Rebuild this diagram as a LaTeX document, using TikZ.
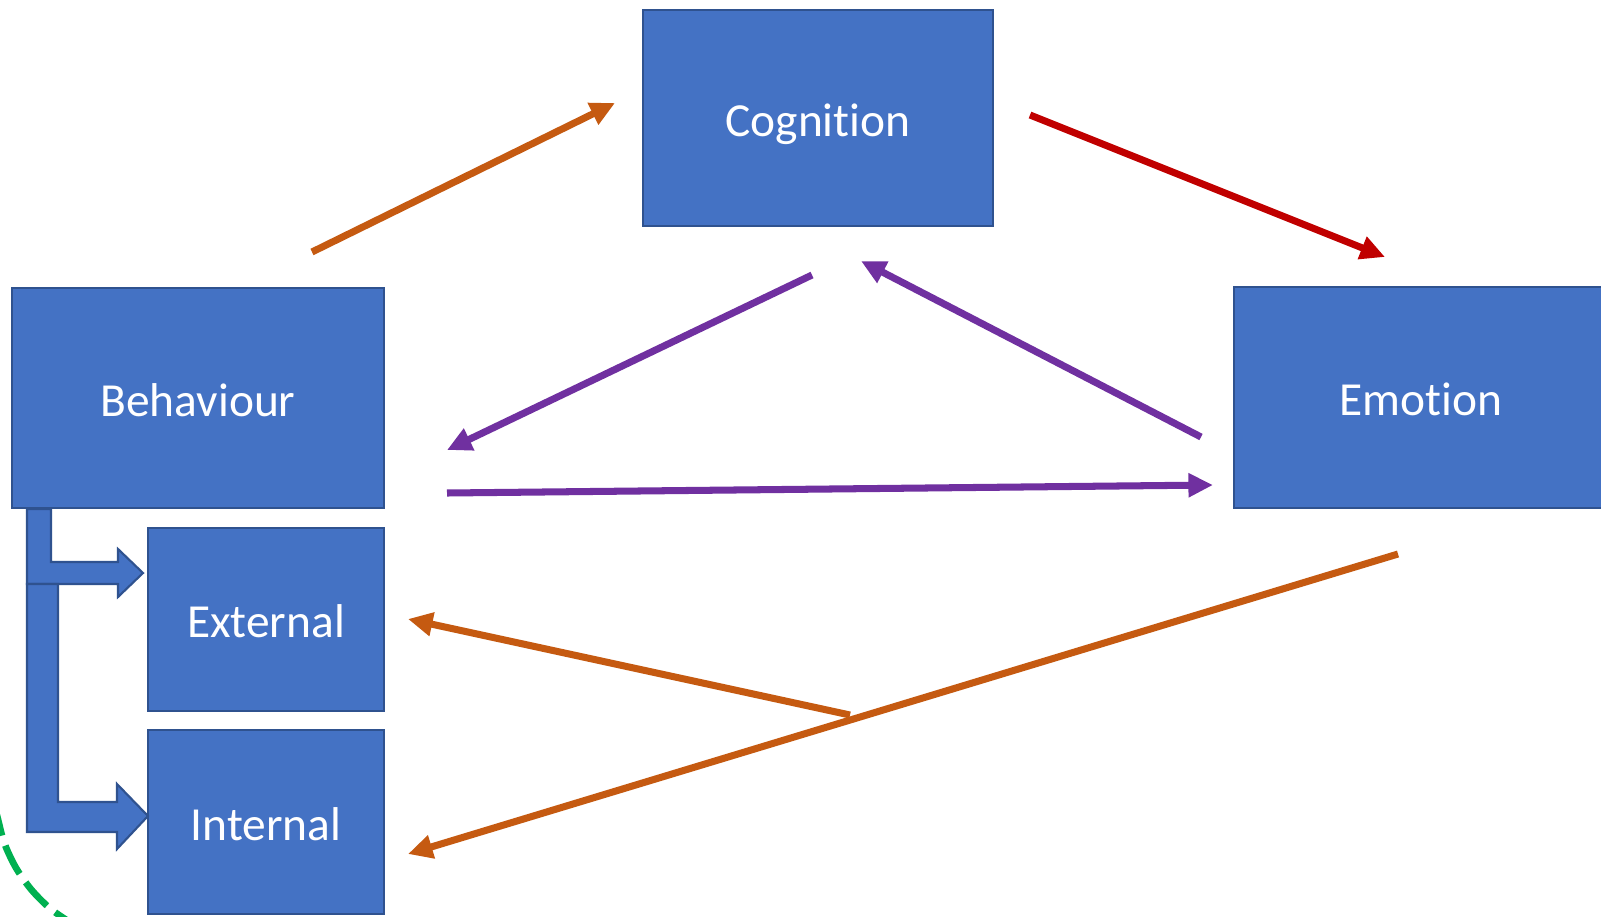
\documentclass[tikz,border=0pt]{standalone}
\usepackage{fontspec}
\setmainfont{Carlito}[Ligatures=NoCommon]
\usetikzlibrary{arrows.meta}
\definecolor{boxfill}{HTML}{4472C4}
\definecolor{boxline}{HTML}{2F528F}
\definecolor{orangearr}{HTML}{C55A11}
\definecolor{redarr}{HTML}{C00000}
\definecolor{purplearr}{HTML}{7030A0}
\definecolor{greenarc}{HTML}{00B050}
\begin{document}
\begin{tikzpicture}[x=0.02cm,y=-0.02cm,
  box/.style={draw=boxline, fill=boxfill, line width=1.2pt, text=white,
    font=\fontsize{27}{32}\selectfont, inner sep=0pt, outer sep=0pt,
    text height=20.5pt, text depth=0pt},
  conn/.style={line width=4pt, -{Triangle[length=14pt,width=13pt]}},
  blockarrow/.style={draw=boxline, fill=boxfill, line width=1.2pt, line join=miter},
  ring/.style={draw=greenarc, line width=3.8pt, dash pattern=on 18pt off 6pt}]
\useasboundingbox (0,0) rectangle (1601,916);
\clip (0,0) rectangle (1601,916);
\fill[white] (0,0) rectangle (1601,916);

% green dashed arc
\draw[ring] plot[smooth] coordinates {(-6,805) (-2.6,816.9) (4.3,843) (15.8,867.5) (31.3,889.6) (50.4,908.7) (72.5,924)};

% boxes
\node[box, minimum width=7.0cm, minimum height=4.32cm] (cog) at (818,118) {Cognition};
\node[box, minimum width=7.44cm, minimum height=4.4cm] (beh) at (198,398) {Behaviour};
\node[box, minimum width=7.48cm, minimum height=4.42cm] (emo) at (1421,397.5) {Emotion};
\node[box, minimum width=4.72cm, minimum height=3.66cm] (ext) at (266,619.5) {External};
\node[box, minimum width=4.72cm, minimum height=3.68cm] (int) at (266,822) {Internal};

% bent block arrows
\draw[blockarrow] (27,509) -- (51,509) -- (51,562) -- (118,562) -- (118,549) -- (143,573)
  -- (118,597) -- (118,584) -- (27,584) -- cycle;
\draw[blockarrow] (27,584) -- (58,584) -- (58,802) -- (117,802) -- (117,784) -- (148,816)
  -- (117,849) -- (117,832) -- (27,832) -- cycle;

% connector end points
\coordinate (o1s) at (312,252);
\coordinate (o1e) at (615,103);
\coordinate (r1s) at (1030,115);
\coordinate (r1e) at (1385,257);
\coordinate (p1s) at (812,275);
\coordinate (p1e) at (447,450);
\coordinate (p2s) at (1201,437);
\coordinate (p2e) at (861,261);
\coordinate (p3s) at (447,493);
\coordinate (p3e) at (1213,485);
\coordinate (o2s) at (1398,554);
\coordinate (o2e) at (408,854);
\coordinate (o3s) at (850,715);
\coordinate (o3e) at (408,619);

% connectors
\draw[conn, orangearr] (o1s) -- (o1e);
\draw[conn, redarr] (r1s) -- (r1e);
\draw[conn, purplearr] (p1s) -- (p1e);
\draw[conn, purplearr] (p2s) -- (p2e);
\draw[conn, purplearr] (p3s) -- (p3e);
\draw[conn, orangearr] (o3s) -- (o3e);
\draw[conn, orangearr] (o2s) -- (o2e);
\end{tikzpicture}
\end{document}
